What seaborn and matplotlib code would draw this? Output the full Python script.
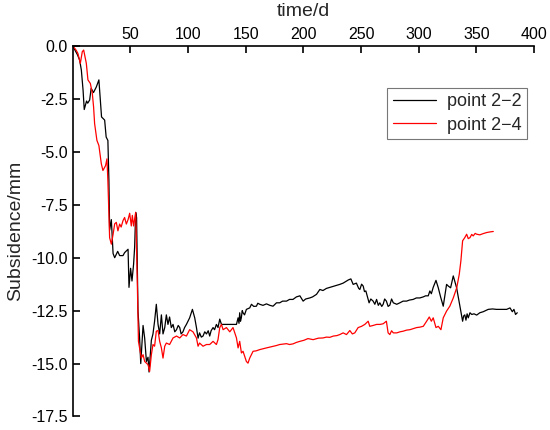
import matplotlib
matplotlib.use("Agg")
import matplotlib.pyplot as plt
import numpy as np
import pandas as pd
import seaborn as sns
from matplotlib.lines import Line2D

# point 2-2 (black)
t22 = [0, 2, 4, 6, 7.5, 9, 10, 11, 12, 13, 14.7, 16, 18, 20.5, 22.7, 24, 25, 27.7, 29, 30.5,
       31.4, 32, 33.5, 35, 36.4, 39, 40.7, 43.6, 45, 48, 48.8, 50.2, 51.4, 52.8, 53.7, 54.6, 55.4,
       56.6, 58, 59, 61, 62.4, 63.9, 65.3, 66.2, 68.2, 69.6, 71, 72.5, 74, 75.4, 76.9, 78.3, 79.8,
       81.2, 82.6, 84, 85.5, 87, 88.5, 90, 91.5, 92.8, 94, 95.6, 97, 98.6, 100, 101.4, 103.8, 105.8,
       107.3, 108.7, 110, 111.5, 113, 114.5, 116, 117.5, 118.8, 120, 121.7, 123, 124.6, 126, 127.5,
       129, 142, 143.4, 144.2, 144.8, 145.5, 146.2, 147, 147.7, 149, 150.6, 153.5, 155, 157, 159.3,
       160.5, 162.2, 165, 168, 171, 173.7, 176.7, 179.5, 182, 185.4, 188, 191, 194, 197, 199.8, 202,
       205.6, 208, 211.4, 214.3, 217, 220, 223, 226, 229, 231.6, 234.5, 237.4, 239, 241.2, 243.2,
       246, 248, 249, 250.5, 251.9, 253, 254.2, 257, 258.5, 260.5, 262, 263.5, 265, 266.3, 268,
       269.2, 270.5, 272, 273.5, 275, 276.5, 278, 281, 283.7, 286.5, 289.5, 292, 295.2, 298, 301,
       304, 306, 308.3, 309.7, 311, 312.6, 315, 317, 319, 321.3, 324.2, 325.7, 327.7, 330, 332.9,
       335.5, 338.1, 339, 340, 341, 342, 343, 344.5, 346, 348, 350.3, 353, 356, 358, 360.3, 364,
       367.6, 372, 376.3, 379.2, 381.2, 382.6, 384, 385.5]
s22 = [0, -0.2, -0.4, -0.66, -1.14, -2.1, -3.0, -2.8, -2.6, -2.7, -2.55, -2.0, -2.2, -1.93, -1.6,
       -2.56, -3.35, -3.5, -4.3, -4.46, -6.36, -8.7, -8.2, -9.8, -10.0, -9.7, -9.9, -9.9, -9.76,
       -9.6, -11.4, -10.5, -11.1, -10.3, -9.5, -7.86, -8.1, -12.5, -13.8, -15.0, -13.2, -13.8,
       -14.9, -14.7, -15.4, -13.9, -13.6, -13.0, -12.2, -13.15, -13.6, -12.7, -13.6, -13.3, -12.7,
       -13.15, -12.8, -13.3, -13.15, -13.5, -13.4, -13.2, -13.3, -13.6, -13.5, -13.3, -13.15,
       -13.0, -12.84, -12.44, -12.84, -13.3, -13.8, -13.55, -13.75, -13.7, -13.5, -13.6, -13.45,
       -13.7, -13.45, -13.3, -13.4, -13.15, -13.3, -12.9, -13.15, -13.15, -12.84, -13.1, -12.6,
       -13.0, -12.84, -12.5, -12.6, -12.7, -12.44, -12.37, -12.2, -12.3, -12.29, -12.15, -12.2,
       -12.25, -12.18, -12.25, -12.29, -12.13, -12.13, -12.05, -12.05, -11.97, -11.97, -11.85,
       -11.8, -12.05, -11.95, -11.9, -11.85, -11.73, -11.5, -11.55, -11.45, -11.4, -11.35, -11.3,
       -11.26, -11.2, -11.1, -11.05, -11.0, -11.26, -11.2, -11.45, -11.5, -11.25, -11.34, -11.6,
       -11.57, -12.13, -11.95, -12.05, -12.2, -11.97, -12.25, -12.13, -12.3, -12.2, -11.95, -12.05,
       -12.3, -12.24, -11.95, -12.13, -12.2, -12.13, -12.05, -12.05, -12.0, -11.97, -11.9, -11.9,
       -11.85, -11.8, -11.8, -11.57, -11.7, -11.4, -11.07, -11.42, -11.85, -12.29, -11.26, -11.34,
       -11.42, -10.86, -11.42, -12.2, -13.0, -12.75, -12.7, -12.95, -12.65, -12.84, -12.6, -12.68,
       -12.65, -12.71, -12.6, -12.55, -12.5, -12.44, -12.42, -12.44, -12.44, -12.44, -12.37,
       -12.55, -12.44, -12.68, -12.6]

# point 2-4 (red)
t24 = [0, 1.6, 3, 4.5, 6.6, 8.3, 9.5, 11.8, 13.2, 15.3, 17, 18.1, 19, 21, 22.7, 24.8, 26.2, 28.5,
       29.7, 30.5, 32, 33.5, 35, 36.4, 37.8, 39.2, 40.7, 42, 43.6, 45, 46.5, 48, 49.4, 50.8, 51.7,
       52.8, 54.6, 56, 57, 58, 59.5, 61, 62.4, 63.9, 65.3, 66.7, 68.2, 69.6, 71, 72.5, 74, 75.4,
       76.9, 78.3, 79.8, 81.2, 84, 87, 90, 92.8, 95.6, 98.6, 101.4, 104.3, 107.3, 108.7, 110, 113,
       116, 118.8, 121.7, 124.6, 126, 127.5, 129, 130.4, 133.3, 136.2, 139, 142, 143.4, 144.8,
       146.3, 147.7, 149.2, 150.6, 152, 153.5, 156.4, 159, 162.2, 165, 168, 171, 173.7, 176.5,
       179.5, 182.5, 185.4, 188, 191, 194, 197, 200.5, 204, 208.5, 213, 217, 220, 223, 226, 229,
       231.6, 234.5, 237.4, 240.3, 242.5, 244.6, 247.5, 250.5, 253.3, 256.2, 257.6, 260.5, 263.5,
       266.5, 269.2, 272, 273.5, 275, 276.5, 278, 281, 283.8, 286.6, 289.5, 292.4, 295.3, 298.2,
       301, 304, 306.9, 309.2, 311, 312.6, 315, 317, 319.3, 321.3, 324.2, 327, 330, 333, 335.2,
       336.6, 338.1, 340, 341.6, 343, 344.5, 346, 347.3, 349, 350.3, 353, 356, 359, 362, 364.7]
s24 = [0, -0.1, -0.2, -0.35, -0.82, -0.27, -0.19, -0.82, -1.6, -1.77, -2.24, -2.88, -3.67, -4.46,
       -4.7, -5.56, -5.88, -5.65, -5.33, -6.36, -9.05, -9.36, -8.9, -8.4, -8.33, -8.73, -8.41,
       -8.55, -8.25, -8.1, -8.41, -8.2, -7.9, -8.5, -8.0, -8.5, -7.86, -11.1, -13.95, -14.26,
       -14.74, -14.58, -14.9, -14.98, -15.05, -15.37, -14.58, -14.1, -14.18, -13.47, -13.44,
       -13.95, -14.26, -14.74, -14.18, -14.03, -14.1, -13.79, -13.7, -13.79, -13.63, -13.7, -13.4,
       -13.5, -13.79, -14.18, -14.03, -14.18, -14.1, -14.1, -13.95, -14.1, -13.87, -13.3, -13.15,
       -13.4, -13.3, -13.5, -13.3, -13.79, -14.26, -13.95, -14.5, -14.42, -14.66, -14.9, -14.98,
       -14.74, -14.42, -14.4, -14.34, -14.3, -14.26, -14.22, -14.18, -14.15, -14.1, -14.08, -14.06,
       -14.1, -14.07, -14.0, -13.95, -13.9, -13.82, -13.87, -13.8, -13.79, -13.75, -13.76, -13.7,
       -13.68, -13.63, -13.55, -13.63, -13.44, -13.6, -13.55, -13.3, -13.24, -13.15, -13.0, -13.24,
       -13.2, -13.15, -13.15, -13.12, -13.0, -13.55, -13.63, -13.45, -13.55, -13.55, -13.5, -13.47,
       -13.42, -13.4, -13.35, -13.3, -13.28, -13.24, -13.0, -12.8, -13.0, -12.84, -13.3, -13.24,
       -13.4, -12.84, -12.52, -12.29, -11.9, -11.42, -10.78, -10.15, -9.2, -9.05, -8.89, -9.1,
       -9.05, -8.9, -8.97, -8.85, -8.89, -8.92, -8.86, -8.81, -8.78, -8.76]

labels = ["point 2\u22122", "point 2\u22124"]
colors = ["#000000", "#ff0000"]

df = pd.concat([
    pd.DataFrame({"time": t22, "subsidence": s22, "series": labels[0]}),
    pd.DataFrame({"time": t24, "subsidence": s24, "series": labels[1]}),
])

sns.set_style("ticks")
plt.rcParams['font.family'] = ['Liberation Sans', 'DejaVu Sans']
plt.rcParams['axes.unicode_minus'] = False

fig = plt.figure(figsize=(5.5, 4.3), dpi=100)
ax = fig.add_axes([0.1322, 0.0314, 0.8387, 0.8616])

sns.lineplot(data=df, x="time", y="subsidence", hue="series", palette=colors,
             estimator=None, sort=False, linewidth=0.9, ax=ax, legend=False)

ax.set_xlim(0, 400)
ax.set_ylim(-17.5, 0)
ax.set_xticks([50, 100, 150, 200, 250, 300, 350, 400])
ax.set_yticks(np.arange(0, -17.6, -2.5))
ax.set_yticklabels(["%.1f" % v for v in np.arange(0, -17.6, -2.5)])
ax.xaxis.tick_top()
ax.xaxis.set_label_position("top")
ax.tick_params(direction="in", length=5, width=1.2, labelsize=11.5, colors="black")
ax.tick_params(axis="x", pad=3)
for s in ["right", "bottom"]:
    ax.spines[s].set_visible(False)
for s in ["left", "top"]:
    ax.spines[s].set_linewidth(1.2)
    ax.spines[s].set_color("black")

ax.set_xlabel("time/d", fontsize=14, labelpad=8)
ax.set_ylabel("Subsidence/mm", fontsize=14, labelpad=5)

handles = [Line2D([], [], color=c, lw=0.9) for c in colors]
leg = ax.legend(handles, labels, loc="upper right", bbox_to_anchor=(0.985, 0.8866),
                fontsize=13, frameon=True, fancybox=False, handlelength=2.4,
                borderpad=0.3, labelspacing=0.35, handletextpad=0.6, borderaxespad=0)
leg.get_frame().set_edgecolor("#555555")
leg.get_frame().set_linewidth(0.8)

fig.savefig("out.png", dpi=100)
